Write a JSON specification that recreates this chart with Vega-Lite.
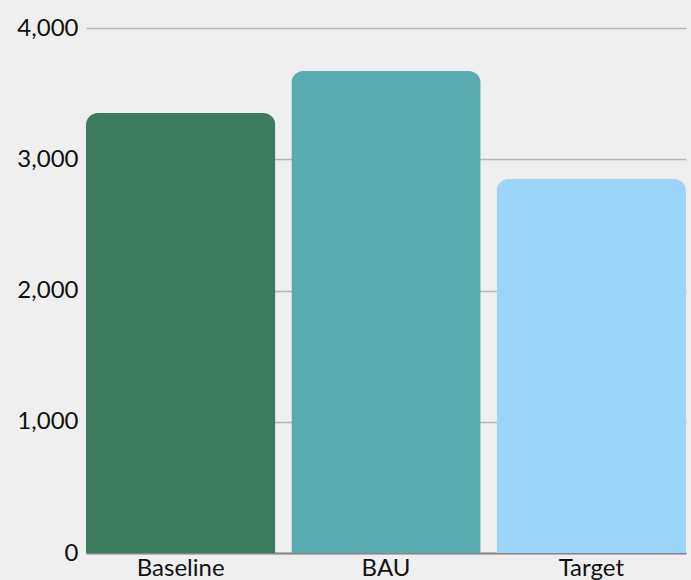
{
  "$schema": "https://vega.github.io/schema/vega-lite/v6.json",
  "width": 600,
  "height": 525,
  "autosize": {"type": "none"},
  "padding": {"left": 86, "top": 28, "right": 5, "bottom": 27},
  "background": "#efefef",
  "data": {
    "values": [
      {"scenario": "Baseline", "value": 3352},
      {"scenario": "BAU", "value": 3672},
      {"scenario": "Target", "value": 2850}
    ]
  },
  "mark": {"type": "bar", "cornerRadiusTopLeft": 12, "cornerRadiusTopRight": 12},
  "encoding": {
    "x": {
      "field": "scenario",
      "type": "nominal",
      "sort": ["Baseline", "BAU", "Target"],
      "scale": {"paddingInner": 0.078, "paddingOuter": 0},
      "axis": {
        "title": null,
        "labelAngle": 0,
        "labelFont": "Lato",
        "labelFontSize": 24,
        "labelColor": "#111111",
        "labelPadding": 3,
        "ticks": false,
        "domainColor": "#888888",
        "domainWidth": 2
      }
    },
    "y": {
      "field": "value",
      "type": "quantitative",
      "scale": {"domain": [0, 4000]},
      "axis": {
        "title": null,
        "values": [0, 1000, 2000, 3000, 4000],
        "format": ",d",
        "labelFont": "Lato",
        "labelFontSize": 24,
        "labelColor": "#111111",
        "labelPadding": 8,
        "ticks": false,
        "domain": false,
        "gridColor": "#b5b5b5",
        "gridWidth": 1.5,
        "gridOpacity": 1
      }
    },
    "color": {
      "field": "scenario",
      "type": "nominal",
      "scale": {
        "domain": ["Baseline", "BAU", "Target"],
        "range": ["#3d7b5f", "#59abb0", "#9dd5f9"]
      },
      "legend": null
    }
  },
  "config": {"view": {"stroke": null}}
}
